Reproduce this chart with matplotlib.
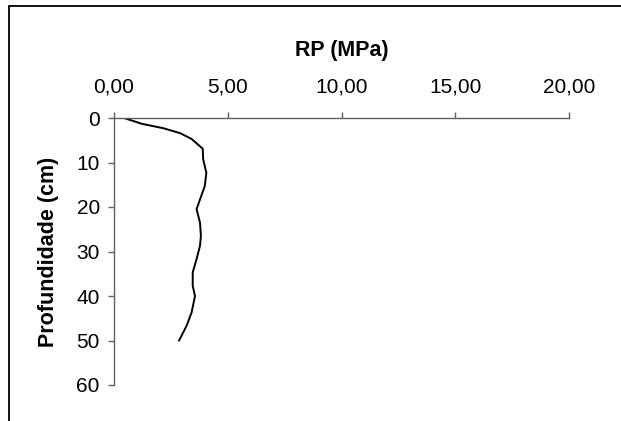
import matplotlib
matplotlib.use('Agg')
import matplotlib.pyplot as plt
from matplotlib.patches import Rectangle
from matplotlib.ticker import FuncFormatter

# resistencia a penetracao (MPa) por profundidade (cm)
profundidade = [0, 1.3, 2.3, 3.4, 4.7, 6.9, 9.3, 12.3, 15.3, 18.3, 20.5,
                23.5, 26.5, 28.7, 31.7, 34.7, 37.7, 40, 43.7, 46.7, 50]
rp = [0.44, 1.22, 2.17, 2.90, 3.41, 3.90, 3.92, 4.06, 3.99, 3.78, 3.63,
      3.78, 3.82, 3.78, 3.63, 3.46, 3.46, 3.56, 3.41, 3.19, 2.86]

x_ticks = [0, 5, 10, 15, 20]
y_ticks = [0, 10, 20, 30, 40, 50, 60]

plt.rcParams['font.family'] = ['Liberation Sans', 'DejaVu Sans']

W, H = 621, 421
fig = plt.figure(figsize=(W / 100, H / 100), dpi=100, facecolor="white")
ax = fig.add_axes([114 / W, 1 - 385 / H, (569 - 114) / W, (385 - 118) / H])

ax.plot(rp, profundidade, color="black", linewidth=1.4)

ax.set_xlim(0, 20)
ax.set_ylim(60, 0)
ax.set_xticks(x_ticks)
ax.set_yticks(y_ticks)
ax.xaxis.set_major_formatter(FuncFormatter(lambda v, p: f"{v:.2f}".replace(".", ",")))
ax.xaxis.tick_top()
ax.xaxis.set_label_position("top")

for side in ("right", "bottom"):
    ax.spines[side].set_visible(False)
for side in ("top", "left"):
    ax.spines[side].set_color("#606060")
    ax.spines[side].set_linewidth(1.0)
ax.tick_params(axis="both", direction="out", length=4.2, width=1.0,
               color="#606060", labelsize=15, labelcolor="black")
ax.tick_params(axis="x", pad=11)
ax.tick_params(axis="y", pad=6)

ax.set_xlabel("RP (MPa)", fontsize=15.5, fontweight="bold", labelpad=15.5)
ax.set_ylabel("Profundidade (cm)", fontsize=15.5, fontweight="bold", labelpad=12.5)

# moldura (apenas topo e esquerda visiveis)
fig.patches.append(Rectangle((9 / W, -0.1), 1.2, (1 - 6 / H) + 0.1,
                             transform=fig.transFigure, fill=False,
                             edgecolor="black", linewidth=1.3))

fig.savefig("out.png", dpi=100, facecolor=fig.get_facecolor())
